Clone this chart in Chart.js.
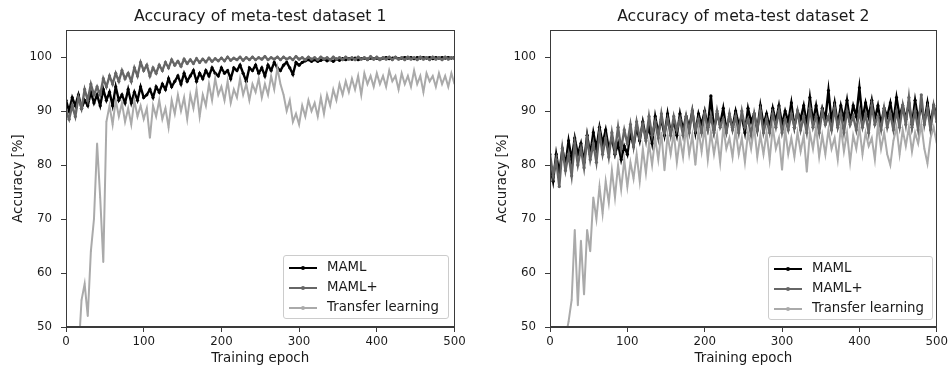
<!DOCTYPE html>
<html>
<head>
<meta charset="utf-8">
<script src="https://cdn.jsdelivr.net/npm/chart.js@4.4.1/dist/chart.umd.min.js"></script>
<style>
  html, body { margin: 0; padding: 0; background: #ffffff; }
  body { width: 951px; height: 371px; position: relative; overflow: hidden; font-family: "DejaVu Sans", sans-serif; }
  .wrap { position: absolute; top: 0; height: 371px; }
  .legend { position: absolute; background: rgba(255,255,255,0.85); border: 1px solid #cccccc; border-radius: 3px; box-sizing: border-box; }
  .row { position: absolute; left: 0; height: 20px; width: 100%; }
  .sample { position: absolute; left: 5px; top: 9px; width: 28px; height: 2px; }
  .dot { position: absolute; left: 12px; top: -1px; width: 4px; height: 4px; border-radius: 2px; }
  .lab { position: absolute; left: 43px; top: 1px; font-size: 13.3px; line-height: 16px; color: #1a1a1a; white-space: nowrap; }
</style>
</head>
<body>
<div class="wrap" style="left:0;width:475px;"><canvas id="c1" width="475" height="371"></canvas></div>
<div class="wrap" style="left:475px;width:476px;"><canvas id="c2" width="476" height="371"></canvas></div>
<div class="legend" style="left:283px;top:255px;width:166px;height:64px;">
  <div class="row" style="top:2px;"><div class="sample" style="background:#000000"><div class="dot" style="background:#000000"></div></div><div class="lab">MAML</div></div>
  <div class="row" style="top:22px;"><div class="sample" style="background:#666666"><div class="dot" style="background:#666666"></div></div><div class="lab">MAML+</div></div>
  <div class="row" style="top:42px;"><div class="sample" style="background:#aaaaaa"><div class="dot" style="background:#aaaaaa"></div></div><div class="lab">Transfer learning</div></div>
</div>
<div class="legend" style="left:768px;top:256px;width:165px;height:64px;">
  <div class="row" style="top:2px;"><div class="sample" style="background:#000000"><div class="dot" style="background:#000000"></div></div><div class="lab">MAML</div></div>
  <div class="row" style="top:22px;"><div class="sample" style="background:#666666"><div class="dot" style="background:#666666"></div></div><div class="lab">MAML+</div></div>
  <div class="row" style="top:42px;"><div class="sample" style="background:#aaaaaa"><div class="dot" style="background:#aaaaaa"></div></div><div class="lab">Transfer learning</div></div>
</div>
<script>
const epochs = [
  0,4,8,12,16,20,24,28,32,36,
  40,44,48,52,56,60,64,68,72,76,
  80,84,88,92,96,100,104,108,112,116,
  120,124,128,132,136,140,144,148,152,156,
  160,164,168,172,176,180,184,188,192,196,
  200,204,208,212,216,220,224,228,232,236,
  240,244,248,252,256,260,264,268,272,276,
  280,284,288,292,296,300,304,308,312,316,
  320,324,328,332,336,340,344,348,352,356,
  360,364,368,372,376,380,384,388,392,396,
  400,404,408,412,416,420,424,428,432,436,
  440,444,448,452,456,460,464,468,472,476,
  480,484,488,492,496,500
];

const d1Maml = [
  92,90,92.5,91,93,90.5,92,91,93.5,91.5,
  93,91,94,92,93.5,91,94.5,92,93,91.5,
  94,91.5,93.5,92,94.5,92.5,93,94,92.5,94.5,
  93.5,95,94,96,94.5,95.5,96.5,95,97,95.5,
  96.5,97.5,95.5,97,96,97.5,96.5,98,97,96.5,
  98,97,97.5,96,98,97.5,98.5,97,95.5,98,
  97.5,98.5,97,98,96.5,98.5,97.5,99,98,97.5,
  98.5,99,98,96.8,99,98.5,99,99.3,99.5,99.2,
  99.5,99.2,99.4,99.6,99.3,99.5,99.2,99.6,99.4,99.7,
  99.5,99.7,99.6,99.8,99.5,99.7,99.8,99.6,99.8,99.7,
  99.8,99.6,99.8,99.9,99.7,99.8,99.9,99.7,99.8,99.9,
  99.8,99.9,99.7,99.9,99.8,99.9,99.8,99.9,99.7,99.9,
  99.8,99.9,99.8,99.9,99.8,99.9
];

const d1MamlPlus = [
  90,88.5,91,89,92.5,90.5,94,92,95,93,
  94.5,93,96,94.5,96.5,95,97,95.5,97.5,96,
  97,95.5,98,96.5,99,97.5,98.5,96.5,98,97,
  98.5,97.5,99,98,99.5,98.5,99.2,98.3,99.6,98.8,
  99.5,98.8,99.7,99,99.6,99.1,99.8,99.2,99.7,99.3,
  99.8,99.3,100,99.4,99.8,99.5,100,99.4,99.9,99.5,
  100,99.5,99.9,99.6,100.1,99.5,99.9,99.6,100,99.5,
  100,99.6,99.9,99.5,100.1,99.6,99.9,99.5,100,99.6,
  99.9,99.5,100,99.6,99.9,99.5,100,99.6,99.9,99.5,
  100,99.6,99.9,99.5,100,99.6,99.9,99.5,100.1,99.6,
  100,99.5,99.9,99.6,100,99.5,100,99.6,99.9,99.5,
  100,99.6,99.9,99.5,100,99.6,99.9,99.5,100,99.6,
  99.9,99.5,100,99.6,99.9,99.7
];

const d1Transfer = [
  38,40,42,44,45,55,58,52,64,70,
  84,74,62,88,91,87.5,92,89,91.5,88,
  90.5,87.5,92,89,91,88.5,90.5,85,91,89,
  92,88.5,90.5,87,92,89.5,93,90,92.5,88.5,
  93,90.5,94,89,93,91,95,92,96,93,
  94.5,92,95.5,91.5,94,92.5,96,93,95,92,
  95,93.5,96,92.5,95,93,96.5,94,98,95,
  93,90,92,88,89.5,87.5,91,89,92,90,
  91.5,89,92.5,89.5,93,91,94,92,95,93,
  95.5,93.5,96,94,96.5,93,97,95,96.5,94.5,
  97,95,96.5,94.5,97.5,95.5,96.5,94,97,95,
  96.5,94.5,97.5,95,96.5,93.5,97,95.5,96.5,94.5,
  97,95,96.5,94.5,97,95
];

const d2Maml = [
  80,77,82,78.5,83,80,84.5,81,85,82,
  84,80.5,85.5,82,86,83,87,84,86.5,83,
  85,82,84,81,83.5,82,86,83.5,87,84.5,
  88,85,87,84,89,86,88.5,85.5,89.5,86,
  88,85.5,89.5,86.5,89,87,90,86,89.5,87.5,
  90,87,92.8,86.5,89.5,87.5,90.5,86.5,89,87,
  90,87.5,89,86,90.5,88,89.5,86.5,91,87.5,
  89.5,87,90.5,88,91,87.5,90,88,91.5,87,
  90,88.5,91,87.5,92.5,88,91,87.5,90.5,88.5,
  93.8,88,91.5,87.5,91,88.5,92,88,91,89,
  94.3,88.5,91.5,89,92,88.5,91,87.5,90.5,89,
  91.5,88,92.5,89,91,88.5,91.5,87.5,92,88.5,
  91,88,91.5,87.5,91,89
];

const d2MamlPlus = [
  82,78,81,76,83,79,82,78,84,80,
  83,79.5,85,81,84,80.5,86,82,85,81.5,
  86,82.5,87,83,86.5,84,87.5,83.5,88,85,
  87.5,84.5,89,85.5,88,85,89.5,86,88.5,85.5,
  89,86.5,88.5,85.5,89,86,90,86.5,88.5,86,
  89.5,86.5,89,86,90,87,88.5,86,89.5,86.5,
  89,86,90,87,88.5,85.5,89.5,86.5,90,86,
  88.5,86,89.5,87,90,86,88.5,86.5,89.5,87,
  90,86.5,89,86,90.5,87,89,86,90,87.5,
  89,86.5,90.5,87,89.5,86,90,87.5,89,86.5,
  90,87,89.5,86,91,87.5,89,86.5,90.5,87,
  89.5,86.5,90,87,91,87.5,92.5,87,90,86.5,
  93,87.5,90.5,86.5,91,88
];

const d2Transfer = [
  40,42,44,45,46,48,51,55,68,54,
  66,56,68,64,74,70,76,71,77,73,
  79,74,80,75.5,81,76,80.5,77.5,82,77,
  83,78.5,84,80,85,81,86,79,85.5,82,
  86,80.5,85,81.5,87,82,85.5,80,86.5,82.5,
  87,81,86,82,85.5,80.5,87,83,85,81.5,
  86.5,82,85,80.5,86,83,87,81.5,85.5,82,
  86,81,87,83,85,79.1,86.5,82,85,81.5,
  86,82.5,85.5,78.7,86,83,87,81.5,85.5,82,
  86.5,83,85,81,87,82.5,86,80.5,85.5,83,
  87,82,86,83.5,85,81,87.5,83,86,82,
  80,84.5,87,82,86.5,83.5,87,82.5,86,84,
  87.5,83,80.3,85,87,84
];

const xTicks = [0, 100, 200, 300, 400, 500];
const yTicks = [50, 60, 70, 80, 90, 100];
const seriesNames = ['MAML', 'MAML+', 'Transfer learning'];
const seriesColors = ['#000000', '#666666', '#aaaaaa'];

const FONT = '"DejaVu Sans", sans-serif';
Chart.defaults.font.family = FONT;
Chart.defaults.color = '#1a1a1a';

const framePlugin = {
  id: 'frame',
  afterDatasetsDraw(chart) {
    const a = chart.chartArea, ctx = chart.ctx;
    ctx.save();
    ctx.strokeStyle = '#3a3a3a';
    ctx.lineWidth = 1;
    ctx.strokeRect(Math.round(a.left) + 0.5, Math.round(a.top) + 0.5, Math.round(a.right - a.left) - 1, Math.round(a.bottom - a.top) - 1);
    ctx.restore();
  }
};

function toPts(vals) { return vals.map((v, i) => ({ x: epochs[i], y: v })); }

function makeChart(id, title, series, padLeft, padRight) {
  const datasets = series.map((vals, k) => ({
    label: seriesNames[k],
    data: toPts(vals),
    borderColor: seriesColors[k],
    backgroundColor: seriesColors[k],
    pointBackgroundColor: seriesColors[k],
    borderWidth: k === 2 ? 2 : 2.4,
    pointRadius: k === 2 ? 0.8 : 1.6,
    pointBorderWidth: 0,
    tension: 0,
    clip: 0,
    order: 3 - k
  }));
  return new Chart(document.getElementById(id), {
    type: 'line',
    data: { datasets },
    plugins: [framePlugin],
    options: {
      responsive: false,
      animation: false,
      devicePixelRatio: 1,
      layout: { padding: { left: padLeft, right: padRight, top: 0, bottom: 0 } },
      plugins: {
        legend: { display: false },
        tooltip: { enabled: false },
        title: {
          display: true, text: title, fullSize: false,
          font: { size: 15.7, weight: 'normal', family: FONT },
          color: '#1a1a1a',
          padding: { top: 7.5, bottom: 3.7 }
        }
      },
      scales: {
        x: {
          type: 'linear', min: 0, max: 500,
          afterBuildTicks: s => { s.ticks = xTicks.map(v => ({ value: v })); },
          afterFit: s => { s.height = 44; },
          grid: { display: true, drawOnChartArea: false, drawTicks: true, tickLength: 5, tickColor: '#3a3a3a' },
          border: { display: true, color: '#3a3a3a' },
          ticks: { font: { size: 11.8, family: FONT }, color: '#1a1a1a', padding: 3, maxRotation: 0 },
          title: { display: true, text: 'Training epoch', font: { size: 13.4, family: FONT }, color: '#1a1a1a', padding: { top: 0, bottom: 4 } }
        },
        y: {
          type: 'linear', min: 50, max: 105,
          afterBuildTicks: s => { s.ticks = yTicks.map(v => ({ value: v })); },
          afterFit: s => { s.width = 66; },
          grid: { display: true, drawOnChartArea: false, drawTicks: true, tickLength: 5, tickColor: '#3a3a3a' },
          border: { display: true, color: '#3a3a3a' },
          ticks: { font: { size: 11.8, family: FONT }, color: '#1a1a1a', padding: 9 },
          title: { display: true, text: 'Accuracy [%]', font: { size: 13.4, family: FONT }, color: '#1a1a1a', padding: { top: 10.3, bottom: 0 } }
        }
      }
    }
  });
}

makeChart('c1', 'Accuracy of meta-test dataset 1', [d1Maml, d1MamlPlus, d1Transfer], 0, 20.5);
makeChart('c2', 'Accuracy of meta-test dataset 2', [d2Maml, d2MamlPlus, d2Transfer], 9, 11.5);
</script>
</body>
</html>
